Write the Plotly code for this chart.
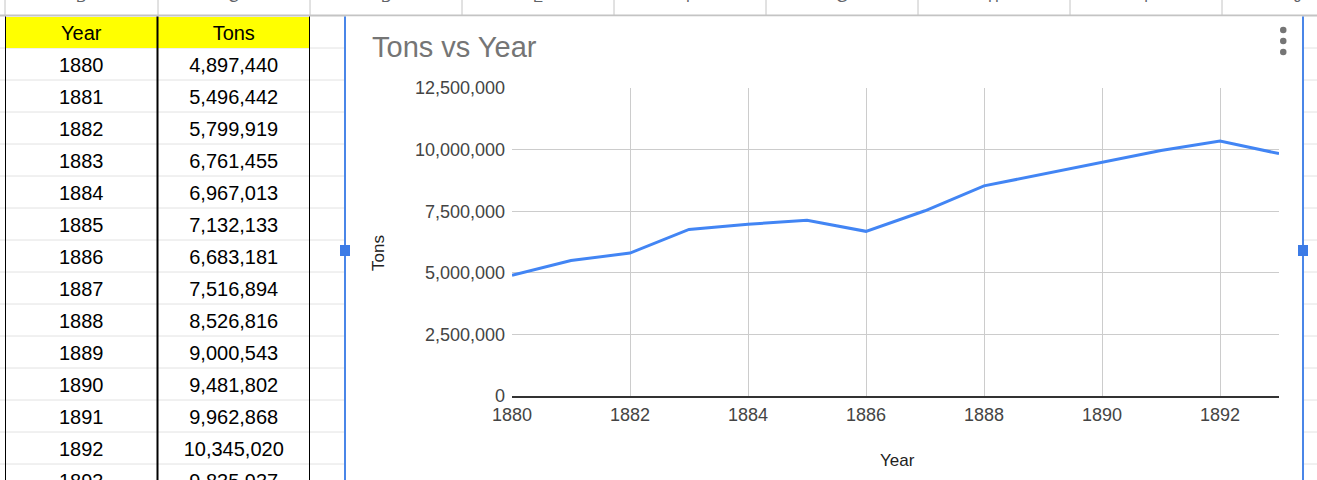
import plotly.graph_objects as go

# ---- data ----
years = [1880, 1881, 1882, 1883, 1884, 1885, 1886, 1887, 1888, 1889, 1890, 1891, 1892, 1893]
tons = [4897440, 5496442, 5799919, 6761455, 6967013, 7132133, 6683181, 7516894,
        8526816, 9000543, 9481802, 9962868, 10345020, 9835937]
headers = ["Year", "Tons"]
col_letters = ["B", "C", "D", "E", "F", "G", "H", "I", "J"]
title_text = "Tons vs Year"
x_title = "Year"
y_title = "Tons"

W, H = 1317, 480
FONT = "Arial, Liberation Sans, sans-serif"


def px(x):
    return x / W


def py(y):
    return 1 - y / H


fig = go.Figure()

# ---- spreadsheet table (drawn on its own hidden axes) ----
n = len(years)
tfont = dict(size=20, color="#000000", family=FONT)
fig.add_trace(go.Scatter(
    x=[0, 1], y=[-1, -1], text=headers, mode="text", textposition="bottom center",
    textfont=tfont, xaxis="x2", yaxis="y3", cliponaxis=False, hoverinfo="skip",
    showlegend=False))
fig.add_trace(go.Scatter(
    x=[0] * n, y=list(range(n)), text=[str(v) for v in years], mode="text",
    textposition="bottom center", textfont=tfont,
    xaxis="x2", yaxis="y3", cliponaxis=False, hoverinfo="skip", showlegend=False))
fig.add_trace(go.Scatter(
    x=[1] * n, y=list(range(n)), text=[f"{v:,}" for v in tons], mode="text",
    textposition="bottom center", textfont=tfont,
    xaxis="x2", yaxis="y3", cliponaxis=False, hoverinfo="skip", showlegend=False))

# ---- chart line ----
fig.add_trace(go.Scatter(
    x=years, y=tons, mode="lines",
    line=dict(color="#4285F4", width=3),
    xaxis="x", yaxis="y", showlegend=False, hoverinfo="skip"))

shapes = []
# sheet row gridlines
for k in range(-1, n):
    shapes.append(dict(type="line", xref="paper", yref="y2", x0=0, x1=1,
                       y0=k + 0.5, y1=k + 0.5, line=dict(color="#e2e2e2", width=1),
                       layer="below"))
# header strip line & column separators
shapes.append(dict(type="line", xref="paper", yref="paper", x0=0, x1=1,
                   y0=py(15.5), y1=py(15.5), line=dict(color="#c4c4c4", width=2), layer="below"))
for xv in [5, 158, 310, 462, 614, 766, 918, 1070, 1222]:
    shapes.append(dict(type="line", xref="paper", yref="paper", x0=px(xv), x1=px(xv),
                       y0=py(0), y1=py(15), line=dict(color="#c4c4c4", width=1), layer="below"))
# chart background
shapes.append(dict(type="rect", xref="paper", yref="paper", x0=px(346), x1=px(1302),
                   y0=py(480), y1=py(16.5), fillcolor="#ffffff", line=dict(width=0), layer="below"))
# yellow header
shapes.append(dict(type="rect", xref="x2", yref="y2", x0=-0.5, x1=1.5, y0=-1.5 + 0.03, y1=-0.5,
                   fillcolor="#ffff00", line=dict(width=0), layer="below"))
# black table borders
for xc in [-0.5, 0.5, 1.5]:
    shapes.append(dict(type="line", xref="x2", yref="paper", x0=xc, x1=xc,
                       y0=0, y1=py(16.5), line=dict(color="#000000", width=2), layer="above"))
# chart selection borders and handles
for xv in [345, 1303]:
    shapes.append(dict(type="line", xref="paper", yref="paper", x0=px(xv), x1=px(xv),
                       y0=0, y1=py(16.5), line=dict(color="#4a86e8", width=2), layer="above"))
    shapes.append(dict(type="rect", xref="paper", yref="paper", x0=px(xv - 5), x1=px(xv + 5),
                       y0=py(256), y1=py(245), fillcolor="#3c7be6", line=dict(width=0), layer="above"))
# menu dots
for yv in [30, 41, 52]:
    shapes.append(dict(type="circle", xref="paper", yref="paper", x0=px(1280), x1=px(1286.5),
                       y0=py(yv + 3.2), y1=py(yv - 3.2), fillcolor="#757575", line=dict(width=0),
                       layer="above"))

annotations = []
letter_x = [81, 234, 386, 538, 690, 842, 994, 1146, 1298]
for lx, lt in zip(letter_x, col_letters):
    annotations.append(dict(x=px(lx), y=py(-3), xref="paper", yref="paper", text=lt,
                            showarrow=False, xanchor="center", yanchor="middle",
                            font=dict(size=15, color="#5f6368", family=FONT)))
annotations.append(dict(x=px(370), y=py(47), xref="paper", yref="paper", text=title_text,
                        showarrow=False, xanchor="left", yanchor="middle",
                        font=dict(size=29, color="#757575", family=FONT)))
annotations.append(dict(x=px(378), y=py(253), xref="paper", yref="paper", text=y_title,
                        showarrow=False, textangle=-90, xanchor="center", yanchor="middle",
                        font=dict(size=17, color="#222222", family=FONT)))
annotations.append(dict(x=px(897), y=py(460), xref="paper", yref="paper", text=x_title,
                        showarrow=False, xanchor="center", yanchor="middle",
                        font=dict(size=17, color="#222222", family=FONT)))

# text sits below its anchor point; anchor is raised so the glyphs land mid-cell
text_shift = 0.234

fig.update_layout(
    width=W, height=H, autosize=False,
    margin=dict(l=0, r=0, t=0, b=0, pad=0, autoexpand=False),
    paper_bgcolor="#ffffff", plot_bgcolor="rgba(0,0,0,0)",
    font=dict(family=FONT),
    showlegend=False,
    xaxis=dict(domain=[px(512), px(1279)], range=[1880, 1893], tick0=1880, dtick=2,
               showgrid=True, gridcolor="#cccccc", gridwidth=1, zeroline=False,
               showline=True, linecolor="#333333", linewidth=1.5,
               ticks="", tickfont=dict(size=18, color="#444444", family=FONT),
               ticklabelstandoff=2, anchor="y", fixedrange=True, automargin=False),
    yaxis=dict(domain=[py(396), py(88)], range=[0, 12500000], tick0=0, dtick=2500000,
               tickformat=",", showgrid=True, gridcolor="#cccccc", gridwidth=1,
               zeroline=False, showline=False, ticks="",
               tickfont=dict(size=18, color="#444444", family=FONT),
               ticklabelstandoff=6, anchor="x", fixedrange=True, automargin=False),
    xaxis2=dict(domain=[px(5), px(310)], range=[-0.5, 1.5], visible=False, anchor="y2",
                fixedrange=True, automargin=False),
    yaxis2=dict(domain=[0, py(16)], range=[n - 1, -1.5], visible=False, anchor="x2",
                fixedrange=True, automargin=False),
    yaxis3=dict(domain=[0, py(16)], range=[n - 1 + text_shift, -1.5 + text_shift],
                visible=False, anchor="x2", fixedrange=True, automargin=False),
    shapes=shapes,
    annotations=annotations,
)

fig.write_html("out.html", config={"displayModeBar": False},
               post_script="document.body.style.margin='0';document.body.style.overflow='hidden';")
